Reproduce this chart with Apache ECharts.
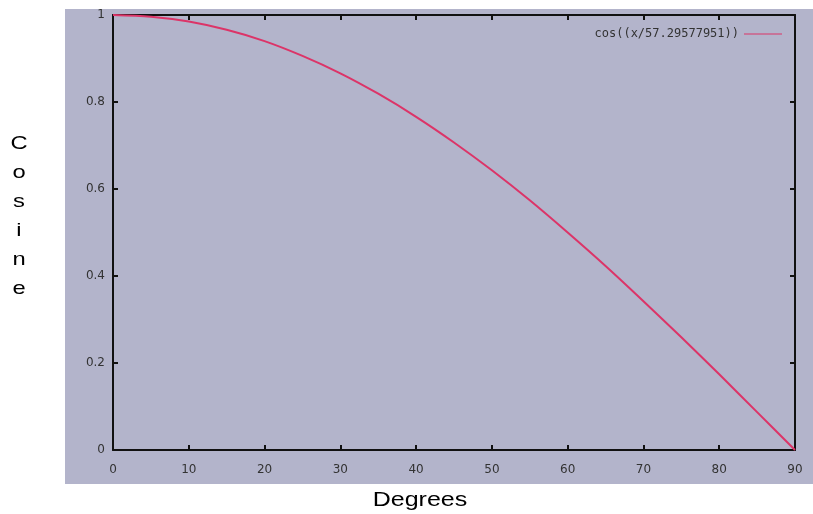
<!DOCTYPE html>
<html>
<head>
<meta charset="utf-8">
<script src="https://cdn.jsdelivr.net/npm/echarts@6/dist/echarts.min.js"></script>
<style>
  html, body { margin: 0; padding: 0; background: #fff; }
  #main { width: 813px; height: 514px; }
</style>
</head>
<body>
<div id="main"></div>
<script>
// degrees on x, cosine
var degrees = [0, 5, 10, 15, 20, 25, 30, 35, 40, 45, 50, 55, 60, 65, 70, 75, 80, 85, 90];
var cosine = [1, 0.996, 0.985, 0.966, 0.94, 0.906, 0.866, 0.819, 0.766, 0.707, 0.643, 0.574, 0.5, 0.423, 0.342, 0.259, 0.174, 0.087, 0];
var xTicks = [0, 10, 20, 30, 40, 50, 60, 70, 80, 90];
var yTicks = [0, 0.2, 0.4, 0.6, 0.8, 1];
var seriesName = 'cos((x/57.29577951))';
var xTitle = 'Degrees';
var yTitle = 'C\no\ns\ni\nn\ne';

var myChart = echarts.init(document.getElementById('main'));

var tickLabel = {color: '#333', fontSize: 12, fontFamily: 'DejaVu Sans'};
var frameLine = {show: true, onZero: false, lineStyle: {color: '#111', width: 2}};
var tick = {show: true, inside: true, length: 5, lineStyle: {color: '#111', width: 2}};

var points = degrees.map(function (d, i) { return [d, cosine[i]]; });

var option = {
    animation: false,
    backgroundColor: '#fff',
    graphic: [{
        type: 'rect',
        z: -10,
        shape: {x: 65, y: 9, width: 748, height: 475},
        style: {fill: '#b3b4cb'}
    }, {
        // x axis title
        type: 'text',
        x: 420, y: 500, scaleX: 1.25,
        style: {text: xTitle, fill: '#000', fontSize: 20, fontFamily: 'Liberation Sans',
                align: 'center', verticalAlign: 'middle'}
    }, {
        // y axis title, one letter per line
        type: 'text',
        x: 19, y: 216, scaleX: 1.25,
        style: {text: yTitle, fill: '#000', fontSize: 19, lineHeight: 29, fontFamily: 'Liberation Sans',
                align: 'center', verticalAlign: 'middle'}
    }],
    grid: {left: 113, right: 18, top: 15, bottom: 64},
    legend: {
        right: 26, top: 23,
        align: 'right',
        itemWidth: 38, itemHeight: 10, itemGap: 8,
        icon: 'path://M0,4.5 L38,4.5 L38,5.5 L0,5.5 Z',
        textStyle: {color: '#333', fontSize: 12, fontFamily: 'DejaVu Sans Mono'},
        data: [seriesName]
    },
    xAxis: [{
        type: 'value', min: 0, max: 90, interval: 10,
        axisLine: frameLine, axisTick: tick, splitLine: {show: false},
        axisLabel: Object.assign({margin: 14}, tickLabel)
    }, {
        type: 'value', position: 'top', min: 0, max: 90, interval: 10,
        axisLine: frameLine, axisTick: tick, splitLine: {show: false},
        axisLabel: {show: false}
    }],
    yAxis: [{
        type: 'value', min: 0, max: 1, interval: 0.2,
        axisLine: frameLine, axisTick: tick, splitLine: {show: false},
        axisLabel: Object.assign({margin: 8}, tickLabel)
    }, {
        type: 'value', position: 'right', min: 0, max: 1, interval: 0.2,
        axisLine: frameLine, axisTick: tick, splitLine: {show: false},
        axisLabel: {show: false}
    }],
    series: [{
        name: seriesName,
        type: 'line',
        data: points,
        smooth: 0.3,
        showSymbol: false,
        lineStyle: {color: '#dc3468', width: 2},
        itemStyle: {color: '#dc3468'}
    }]
};

myChart.setOption(option);
</script>
</body>
</html>
